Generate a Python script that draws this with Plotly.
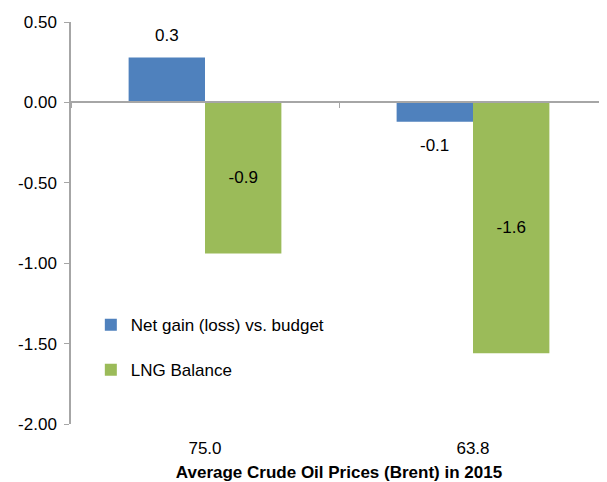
import plotly.graph_objects as go

categories = ["75.0", "63.8"]
net_gain = [0.28, -0.12]
net_gain_labels = ["0.3", "-0.1"]
lng_balance = [-0.94, -1.56]
lng_labels = ["-0.9", "-1.6"]
y_ticks = [0.5, 0.0, -0.5, -1.0, -1.5, -2.0]
y_tick_labels = ["0.50", "0.00", "-0.50", "-1.00", "-1.50", "-2.00"]
x_pos = list(range(len(categories)))

FONT = "Arial, Liberation Sans, sans-serif"

fig = go.Figure()
fig.add_trace(go.Bar(
    x=x_pos, y=net_gain, name="Net gain (loss) vs. budget",
    marker=dict(color="#4F81BD", line=dict(width=0)),
    legendgroup="a",
))
fig.add_trace(go.Bar(
    x=x_pos, y=lng_balance, name="LNG Balance",
    marker=dict(color="#9BBB59", line=dict(width=0)),
    text=lng_labels, textposition="inside", insidetextanchor="middle",
    textfont=dict(size=17, color="black", family=FONT),
    legendgroup="b",
))
# invisible trace so the category axis line is drawn at y = 0
fig.add_trace(go.Scatter(x=[x_pos[0]], y=[0], xaxis="x2", mode="markers",
                         marker=dict(opacity=0), showlegend=False, hoverinfo="skip"))

# data labels of the blue series, anchored to the bar ends
for xv, yv, lab in zip(x_pos, net_gain, net_gain_labels):
    fig.add_annotation(x=xv, y=yv, xref="x", yref="y", text=lab,
                       showarrow=False, xshift=-38.5,
                       yshift=22 if yv >= 0 else -24, yanchor="middle",
                       font=dict(size=17, color="black", family=FONT))

fig.update_layout(
    width=599, height=474,
    margin=dict(l=63, r=0, t=14, b=58),
    paper_bgcolor="white", plot_bgcolor="white",
    font=dict(family=FONT, size=17, color="black"),
    barmode="group", bargap=0.43, bargroupgap=0,
    showlegend=True,
    legend=dict(x=0.037, y=0.19, xanchor="left", yanchor="middle",
                bgcolor="rgba(0,0,0,0)", font=dict(size=17),
                tracegroupgap=20, itemwidth=30),
    xaxis=dict(range=[-0.5, 1.5], tickvals=x_pos, ticktext=categories,
               showline=False, showgrid=False, zeroline=False, ticks="",
               ticklabelstandoff=12,
               title=dict(text="<b>Average Crude Oil Prices (Brent) in 2015</b>",
                          font=dict(size=17), standoff=9)),
    xaxis2=dict(range=[-0.5, 1.5], overlaying="x", anchor="free", position=0.8,
                showline=True, linecolor="#A6A6A6", linewidth=1.5,
                tickvals=[-0.5, 0.5, 1.5], ticks="outside", ticklen=5,
                tickcolor="#A6A6A6", showticklabels=False, showgrid=False,
                zeroline=False),
    yaxis=dict(range=[-2.0, 0.5], tickvals=y_ticks, ticktext=y_tick_labels,
               showline=True, linecolor="#A6A6A6", linewidth=1.5,
               ticks="outside", ticklen=5, tickcolor="#A6A6A6",
               ticklabelstandoff=4,
               showgrid=False, zeroline=False),
)

fig.write_html("out.html")
